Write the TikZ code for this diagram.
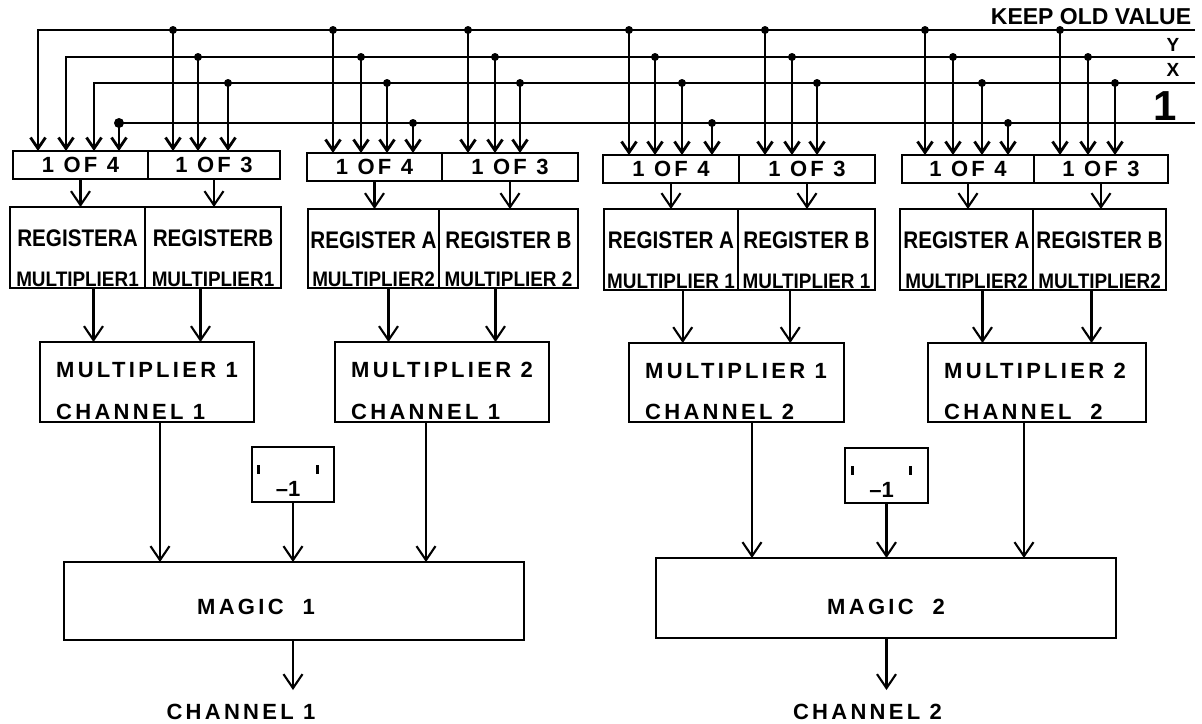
\documentclass[tikz,border=0pt]{standalone}
\usepackage{fontspec}
\setmainfont{Liberation Sans}
\newfontfamily\spcfont[LetterSpace=15]{Liberation Sans}
\newfontfamily\cndfont[FakeStretch=0.86]{Liberation Sans}
\newfontfamily\cndmfont[FakeStretch=0.9]{Liberation Sans}
\usetikzlibrary{arrows.meta,calc}
\begin{document}
\begin{tikzpicture}[x=1pt,y=-1pt,
  box/.style={draw, line width=2.8pt, inner sep=0pt, outer sep=0pt, anchor=north west},
  arrS/.style={line width=2.8pt, -{Straight Barb[length=11pt,width=15pt]}},
  arrL/.style={line width=2.1pt, -{Straight Barb[length=14pt,width=19pt]}},
  dot/.style={circle, fill, inner sep=0pt, minimum size=8pt},
  sel/.style={font=\spcfont\bfseries\fontsize{22}{22}\selectfont},
  reg/.style={font=\cndfont\bfseries\fontsize{24}{24}\selectfont, inner sep=0pt},
  regm/.style={font=\cndmfont\bfseries\fontsize{21}{21}\selectfont, inner sep=0pt},
  mul/.style={font=\spcfont\bfseries\fontsize{22}{22}\selectfont, inner sep=0pt, anchor=west},
  big/.style={font=\spcfont\bfseries\fontsize{22}{22}\selectfont, inner sep=0pt},
  lbl/.style={font=\bfseries\fontsize{19}{19}\selectfont, inner sep=0pt},
  negone/.style={font=\bfseries\fontsize{22}{22}\selectfont, inner sep=0pt},
  ]
\useasboundingbox (0,0) rectangle (1202,723);

% ---------- selector boxes ----------
\node[box, sel, minimum width=135pt, minimum height=28pt] (S1a) at (13,151) {1 OF 4};
\node[box, sel, minimum width=132pt, minimum height=28pt] (S1b) at (148,151) {1 OF 3};
\node[box, sel, minimum width=135pt, minimum height=28pt] (S2a) at (307,153) {1 OF 4};
\node[box, sel, minimum width=136pt, minimum height=28pt] (S2b) at (442,153) {1 OF 3};
\node[box, sel, minimum width=136pt, minimum height=28pt] (S3a) at (603,155) {1 OF 4};
\node[box, sel, minimum width=136pt, minimum height=28pt] (S3b) at (739,155) {1 OF 3};
\node[box, sel, minimum width=132pt, minimum height=28pt] (S4a) at (902,155) {1 OF 4};
\node[box, sel, minimum width=134pt, minimum height=28pt] (S4b) at (1034,155) {1 OF 3};

% ---------- bus lines ----------
\coordinate (kE) at (1195,30); \coordinate (kW) at (38,30);
\coordinate (yE) at (1195,57); \coordinate (yW) at (66,57);
\coordinate (xE) at (1195,83); \coordinate (xW) at (94,83);
\coordinate (uE) at (1195,123); \coordinate (uW) at (119,123);
\draw[arrS, line join=miter] (kE) -- (kW) -- (kW |- S1a.north);
\draw[arrS, line join=miter] (yE) -- (yW) -- (yW |- S1a.north);
\draw[arrS, line join=miter] (xE) -- (xW) -- (xW |- S1a.north);
\draw[arrS] (uE) -- (uW) -- (uW |- S1a.north);
\node[dot, minimum size=10pt] (duW) at (uW) {};

\foreach \n/\x/\y/\s in {
  k2/173/30/S1b, k3/333/30/S2a, k4/468/30/S2b, k5/629/30/S3a, k6/765/30/S3b, k7/925/30/S4a, k8/1060/30/S4b,
  y2/198/57/S1b, y3/361/57/S2a, y4/495/57/S2b, y5/655/57/S3a, y6/792/57/S3b, y7/953/57/S4a, y8/1088/57/S4b,
  x2/228/83/S1b, x3/387/83/S2a, x4/520/83/S2b, x5/682/83/S3a, x6/817/83/S3b, x7/982/83/S4a, x8/1115/83/S4b,
  u3/413/123/S2a, u5/712/123/S3a, u7/1008/123/S4a}{
  \coordinate (\n) at (\x,\y);
  \node[dot] (d\n) at (\n) {};
  \draw[arrS] (\n) -- (\n |- \s.north);
}

% ---------- right labels ----------
\node[font=\bfseries\fontsize{23}{23}\selectfont, inner sep=0pt] (KV) at (1091,17) {KEEP OLD VALUE};
\node[lbl] (LY) at (1173,45) {Y};
\node[lbl] (LX) at (1173,70) {X};
\node[font=\bfseries\fontsize{42}{42}\selectfont, inner sep=0pt] (L1) at (1165,106) {1};

% ---------- register boxes ----------
\node[box, minimum width=135pt, minimum height=81pt] (R1a) at (10,207) {};
\node[box, minimum width=136pt, minimum height=81pt] (R1b) at (145,207) {};
\node[box, minimum width=131pt, minimum height=79pt] (R2a) at (308,209) {};
\node[box, minimum width=139pt, minimum height=79pt] (R2b) at (439,209) {};
\node[box, minimum width=134pt, minimum height=81pt] (R3a) at (604,209) {};
\node[box, minimum width=137pt, minimum height=81pt] (R3b) at (738,209) {};
\node[box, minimum width=133pt, minimum height=81pt] (R4a) at (900,209) {};
\node[box, minimum width=133pt, minimum height=81pt] (R4b) at (1033,209) {};

\foreach \r/\ta/\tb in {R1a/REGISTERA/MULTIPLIER1, R1b/REGISTERB/MULTIPLIER1,
  R2a/REGISTER A/MULTIPLIER2, R2b/REGISTER B/MULTIPLIER 2,
  R3a/REGISTER A/MULTIPLIER 1, R3b/REGISTER B/MULTIPLIER 1,
  R4a/REGISTER A/MULTIPLIER2, R4b/REGISTER B/MULTIPLIER2}{
  \node[reg] (\r t) at ([yshift=-31pt]\r.north) {\ta};
  \node[regm] (\r m) at ([yshift=9pt]\r.south) {\tb};
}

% ---------- multiplier boxes ----------
\node[box, minimum width=214pt, minimum height=80pt] (M1) at (40,342) {};
\node[box, minimum width=214pt, minimum height=80pt] (M2) at (335,342) {};
\node[box, minimum width=215pt, minimum height=79pt] (M3) at (629,343) {};
\node[box, minimum width=218pt, minimum height=79pt] (M4) at (928,343) {};
\foreach \m/\ta/\tb in {M1/MULTIPLIER 1/CHANNEL 1, M2/MULTIPLIER 2/CHANNEL 1,
  M3/MULTIPLIER 1/CHANNEL 2, M4/MULTIPLIER 2/CHANNEL\ \ 2}{
  \node[mul] (\m t) at ([shift={(16pt,-28pt)}]\m.north west) {\ta};
  \node[mul] (\m c) at ([shift={(16pt,10pt)}]\m.south west) {\tb};
}

% ---------- -1 boxes ----------
\node[box, minimum width=82pt, minimum height=55pt] (N1) at (252,447) {};
\node[box, minimum width=83pt, minimum height=55pt] (N2) at (845,448) {};
\node[negone] (N1t) at ([shift={(-5pt,-6pt)}]N1.center)
  {\rule[22.5pt]{2.8pt}{9pt}\hspace{15.5pt}{--}1\hspace{15.5pt}\rule[22.5pt]{2.8pt}{9pt}};
\node[negone] (N2t) at ([shift={(-5pt,-6pt)}]N2.center)
  {\rule[22.5pt]{2.8pt}{9pt}\hspace{15.5pt}{--}1\hspace{15.5pt}\rule[22.5pt]{2.8pt}{9pt}};

% ---------- magic boxes ----------
\node[box, minimum width=460pt, minimum height=78pt] (G1) at (64,562) {};
\node[box, minimum width=460pt, minimum height=80pt] (G2) at (656,558) {};
\node[big] (G1t) at ([shift={(192pt,-45pt)}]G1.north west) {MAGIC\ \ 1};
\node[big] (G2t) at ([shift={(230pt,-49pt)}]G2.north west) {MAGIC\ \ 2};

% ---------- connectors ----------
\foreach \s/\r in {S1a/R1a, S1b/R1b, S2a/R2a, S2b/R2b, S3a/R3a, S3b/R3b, S4a/R4a, S4b/R4b}{
  \draw[arrL] (\s.south) -- (\s.south |- \r.north);
}
\foreach \m/\ra/\rb in {M1/R1a/R1b, M2/R2a/R2b, M3/R3a/R3b, M4/R4a/R4b}{
  \coordinate (\m l) at ($(\m.north west)!0.25!(\m.north east)$);
  \coordinate (\m r) at ($(\m.north west)!0.75!(\m.north east)$);
  \draw[arrL] (\m l |- \ra.south) -- (\m l);
  \draw[arrL] (\m r |- \rb.south) -- (\m r);
}
\coordinate (q1) at ([xshift=120pt]M1.south west);
\coordinate (q2) at ([xshift=91pt]M2.south west);
\coordinate (q3) at ([xshift=123pt]M3.south west);
\coordinate (q4) at ([xshift=96pt]M4.south west);
\draw[arrL] (q1) -- (q1 |- G1.north);
\draw[arrL] (q2) -- (q2 |- G1.north);
\draw[arrL] (q3) -- (q3 |- G2.north);
\draw[arrL] (q4) -- (q4 |- G2.north);
\draw[arrL] (N1.south) -- (N1.south |- G1.north);
\draw[arrL] (N2.south) -- (N2.south |- G2.north);

\path (G1.south -| N1.south) ++(0,50) coordinate (o1);
\path (G2.south -| N2.south) ++(0,52) coordinate (o2);
\draw[arrL] (o1 |- G1.south) -- (o1);
\draw[arrL] (o2 |- G2.south) -- (o2);
\node[big] (C1) at ([shift={(-52pt,-22pt)}]o1) {CHANNEL 1};
\node[big] (C2) at ([shift={(-19pt,-22pt)}]o2) {CHANNEL 2};
\end{tikzpicture}
\end{document}
